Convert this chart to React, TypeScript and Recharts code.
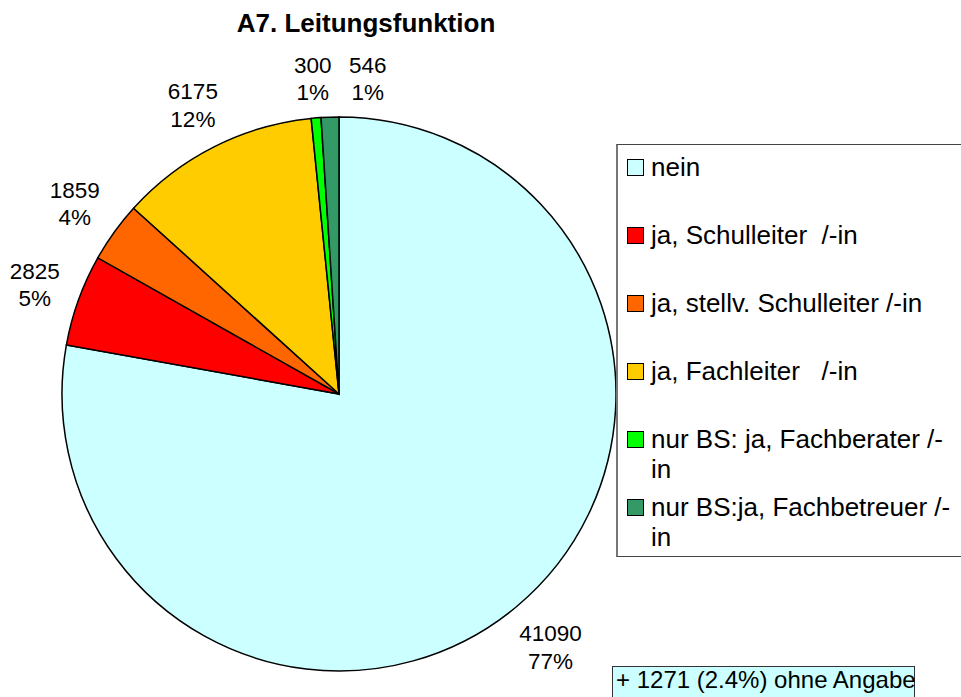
import React from "react";
import { Cell, Legend, Pie, PieChart } from "recharts";

// Leitungsfunktion, clockwise from 12 o'clock
const categories = [
  "nein",
  "ja, Schulleiter  /-in",
  "ja, stellv. Schulleiter /-in",
  "ja, Fachleiter   /-in",
  "nur BS: ja, Fachberater /-in",
  "nur BS:ja, Fachbetreuer /-in",
];
const counts = [41090, 2825, 1859, 6175, 300, 546];
const percentLabels = ["77%", "5%", "4%", "12%", "1%", "1%"];
const colors = ["#CCFFFF", "#FF0000", "#FF6600", "#FFCC00", "#00FF00", "#339966"];

const noAnswerCount = 1271;
const noAnswerPercent = "2.4%";

const data = categories.map((name, i) => ({ name, value: counts[i] }));

const FONT = "Arial, 'Liberation Sans', sans-serif";
const LABEL_FONT = 22.5;
const RAD = Math.PI / 180;

// the two thin slices at the top would collide, Excel pushed the second one right
const labelShift: Record<string, number> = { "nur BS:ja, Fachbetreuer /-in": 39 };

function renderLabel(props: any) {
  const { cx, cy, midAngle, outerRadius, index } = props;
  const c = Math.cos(midAngle * RAD);
  const s = Math.sin(midAngle * RAD);
  const valueText = String(counts[index]);
  const halfW = (valueText.length * 0.556 * LABEL_FONT) / 2;
  const halfH = 23;
  const d = outerRadius + 15 + Math.abs(c) * halfW + Math.abs(s) * halfH;
  const x = cx + d * c + (labelShift[categories[index]] ?? 0);
  const y = cy - d * s;
  return (
    <text x={x} y={y - 5.75} textAnchor="middle" fontSize={LABEL_FONT} fontFamily={FONT} fill="#000">
      <tspan x={x}>{valueText}</tspan>
      <tspan x={x} dy={27.5}>{percentLabels[index]}</tspan>
    </text>
  );
}

function LegendBox({ payload }: any) {
  // keep the slice order, not the alphabetical one
  const entries = (payload && payload.length ? [...payload] : data.map((d) => ({ value: d.name })))
    .sort((a: any, b: any) => categories.indexOf(a.value) - categories.indexOf(b.value));
  return (
    <div
      style={{
        boxSizing: "border-box",
        width: 370,
        height: 413,
        background: "#fff",
        borderTop: "1px solid #444",
        borderBottom: "1px solid #444",
        borderLeft: "2px solid #777",
        paddingTop: 7,
        fontFamily: FONT,
        fontSize: 26,
        lineHeight: "30px",
        color: "#000",
        textAlign: "left",
      }}
    >
      {entries.map((e: any, i: number) => {
        const k = categories.indexOf(e.value);
        return (
          <div key={e.value ?? i} style={{ height: 68, display: "flex", alignItems: "flex-start" }}>
            <span
              style={{
                display: "inline-block",
                boxSizing: "border-box",
                width: 17,
                height: 17,
                marginLeft: 9,
                marginTop: 7,
                marginRight: 7,
                flex: "none",
                background: colors[k >= 0 ? k : i],
                border: "1px solid #000",
              }}
            />
            <span style={{ width: 306, whiteSpace: "pre-wrap" }}>{e.value}</span>
          </div>
        );
      })}
    </div>
  );
}

export default function App() {
  return (
    <div
      style={{
        position: "absolute",
        left: 0,
        top: 0,
        width: 961,
        height: 697,
        overflow: "hidden",
        background: "#fff",
        fontFamily: FONT,
      }}
    >
      <div
        style={{
          position: "absolute",
          left: 0,
          top: 8,
          width: 732,
          textAlign: "center",
          fontSize: 26,
          lineHeight: "30px",
          fontWeight: "bold",
          zIndex: 2,
        }}
      >
        A7. Leitungsfunktion
      </div>
      <PieChart width={961} height={697} margin={{ top: 0, right: 0, bottom: 0, left: 0 }}>
        <Pie
          data={data}
          dataKey="value"
          nameKey="name"
          cx={339}
          cy={394}
          outerRadius={277}
          startAngle={90}
          endAngle={-270}
          stroke="#000"
          strokeWidth={1.5}
          label={renderLabel}
          labelLine={false}
          isAnimationActive={false}
        >
          {data.map((d, i) => (
            <Cell key={d.name} fill={colors[i]} />
          ))}
        </Pie>
        <Legend
          layout="vertical"
          align="right"
          verticalAlign="middle"
          content={<LegendBox />}
          wrapperStyle={{ position: "absolute", left: 616, top: 144, width: 370, height: 413, right: "auto", bottom: "auto" }}
        />
      </PieChart>
      <div
        style={{
          position: "absolute",
          left: 612,
          top: 666,
          width: 303,
          height: 40,
          boxSizing: "border-box",
          background: "#CCFFFF",
          border: "1.5px solid #333",
          paddingLeft: 3,
          fontSize: 24,
          lineHeight: "26px",
          whiteSpace: "pre",
          zIndex: 2,
        }}
      >
        {`+ ${noAnswerCount} (${noAnswerPercent}) ohne Angabe`}
      </div>
    </div>
  );
}
